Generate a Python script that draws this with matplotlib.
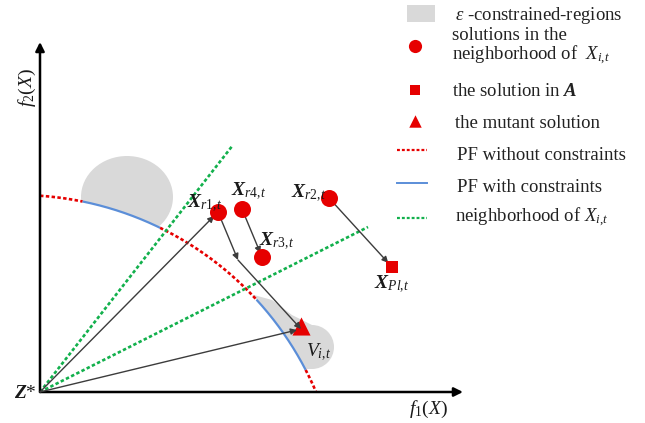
import numpy as np
import matplotlib
matplotlib.use("Agg")
import matplotlib.pyplot as plt
from matplotlib.patches import Circle, Ellipse, Polygon, Rectangle

plt.rcParams['font.family'] = ['Liberation Serif', 'DejaVu Serif']
plt.rcParams['mathtext.fontset'] = 'custom'
plt.rcParams['mathtext.rm'] = 'Liberation Serif'
plt.rcParams['mathtext.it'] = 'Liberation Serif:italic'
plt.rcParams['mathtext.bf'] = 'Liberation Serif:italic:bold'

# ---- diagram data (objective space, drawing units) ----
ideal_point = (40, 392)                     # Z*
axis_ends = [(463, 392), (40, 42)]          # f1 and f2 axis tips

pf_center = (18, 519)
pf_radius = 324
pf_angle_range = (86.1, 23.1)               # degrees, whole front
pf_feasible_parts = [(78.5, 64.0), (42.6, 27.4)]

neighbor_ray_x = [233, 368]
neighbor_ray_y = [145, 227]

sol_names = ['r1', 'r4', 'r3', 'r2']
sol_x = [218, 242, 262, 329]
sol_y = [212, 209, 257, 198]
archive_x, archive_y = 392, 267

# mutant built by vector addition
x1 = np.array([sol_x[0], sol_y[0]], float)
x4 = np.array([sol_x[1], sol_y[1]], float)
x3 = np.array([sol_x[2], sol_y[2]], float)
x2 = np.array([sol_x[3], sol_y[3]], float)
xa = np.array([archive_x, archive_y], float)
step_point = x1 + (x3 - x4)
mutant = step_point + (xa - x2)

legend_labels = [r'$\epsilon$ -constrained-regions',
                 'solutions in the\nneighborhood of  $X_{i{,}t}$',
                 r'the solution in $\mathbf{A}$',
                 'the mutant solution',
                 'PF without constraints',
                 'PF with constraints',
                 'neighborhood of $X_{i{,}t}$']

RED = '#e60000'
BLUE = '#5b8ed8'
GREEN = '#12b04c'
GRAY = '#d9d9d9'
ARROW = '#3c3c3c'

fig = plt.figure(figsize=(6.45, 4.23), dpi=100)
ax = fig.add_axes([0, 0, 1, 1])
ax.set_xlim(0, 645)
ax.set_ylim(423, 0)
ax.axis('off')


def arc(a0, a1, n=200):
    t = np.radians(np.linspace(a0, a1, n))
    return pf_center[0] + pf_radius * np.cos(t), pf_center[1] - pf_radius * np.sin(t)


# epsilon-constrained regions (outside the front only)
ax.add_patch(Ellipse((127, 197), 92, 82, color=GRAY, zorder=1, lw=0))
ax.add_patch(Circle((312, 347), 22, color=GRAY, zorder=1, lw=0))
ax.add_patch(Polygon([(254, 295), (272, 300), (292, 315), (312, 325),
                      (312, 369), (290, 369), (240, 300)],
                     closed=True, color=GRAY, zorder=1, lw=0))
ax.add_patch(Circle(pf_center, pf_radius, color='white', zorder=2, lw=0))

# Pareto fronts
bounds = [pf_angle_range[0]]
for a, b in pf_feasible_parts:
    bounds += [a, b]
bounds.append(pf_angle_range[1])
for i in range(0, len(bounds), 2):
    xs, ys = arc(bounds[i], bounds[i + 1])
    ax.plot(xs, ys, color=RED, lw=1.9, ls=(0, (1.3, 0.9)), zorder=3)
for a, b in pf_feasible_parts:
    xs, ys = arc(a, b)
    ax.plot(xs, ys, color=BLUE, lw=1.6, zorder=3, solid_capstyle='butt')

# neighborhood rays
for ex, ey in zip(neighbor_ray_x, neighbor_ray_y):
    ax.plot([ideal_point[0], ex], [ideal_point[1], ey], color=GREEN, lw=1.9,
            ls=(0, (1.3, 0.9)), zorder=3)

# coordinate axes
for tip in axis_ends:
    ax.annotate('', xy=tip, xytext=ideal_point,
                arrowprops=dict(arrowstyle='-|>', color='black', lw=1.8,
                                mutation_scale=13, shrinkA=0, shrinkB=0),
                zorder=4)


def vec(a, b, sb=2):
    ax.annotate('', xy=tuple(b), xytext=tuple(a),
                arrowprops=dict(arrowstyle='-|>', color=ARROW, lw=1.0,
                                mutation_scale=9, shrinkA=0, shrinkB=sb),
                zorder=5)


vec(ideal_point, x1, 4)
vec(ideal_point, mutant, 3)
vec(x1, step_point, 0)
vec(step_point, mutant, 0)
vec(x4, x3, 3)
vec(x2, xa, 4)

# solutions
ax.scatter(sol_x, sol_y, s=150, color=RED, zorder=6, lw=0)
ax.scatter([archive_x], [archive_y], s=80, marker='s', color=RED, zorder=6, lw=0)
ax.scatter([mutant[0]], [mutant[1] - 3], s=170, marker='^', color=RED, zorder=4, lw=0)

# point labels
fs = 14
txt = dict(fontsize=fs, color='#1a1a1a', zorder=7)
ax.text(187, 203, r'$\mathbf{X}_{r1{,}t}$', ha='left', va='center', **txt)
ax.text(231, 191, r'$\mathbf{X}_{r4{,}t}$', ha='left', va='center', **txt)
ax.text(259, 241, r'$\mathbf{X}_{r3{,}t}$', ha='left', va='center', **txt)
ax.text(291, 193, r'$\mathbf{X}_{r2{,}t}$', ha='left', va='center', **txt)
ax.text(374, 284, r'$\mathbf{X}_{Pl{,}t}$', ha='left', va='center', **txt)
ax.text(306, 352, r'$V_{i{,}t}$', ha='left', va='center', **txt)
ax.text(25, 394, r'$\mathbf{Z}$*', ha='center', va='center', **txt)
ax.text(428, 409, r'$f_1(X)$', ha='center', va='center', **txt)
ax.text(27, 88, r'$f_2(X)$', ha='center', va='center', rotation=90, **txt)

# legend
lx0, lx1 = 397, 427
mx = 415
ltxt = dict(fontsize=13.5, color='#222222', ha='left', va='center', zorder=7)
ax.add_patch(Rectangle((407, 5), 28, 17, color=GRAY, lw=0))
ax.text(455, 15, legend_labels[0], **ltxt)
ax.scatter([mx], [46], s=90, color=RED, lw=0)
ax.text(452, 47, legend_labels[1], linespacing=1.0, **ltxt)
ax.scatter([mx], [90], s=60, marker='s', color=RED, lw=0)
ax.text(452, 92, legend_labels[2], **ltxt)
ax.scatter([mx], [121], s=80, marker='^', color=RED, lw=0)
ax.text(455, 124, legend_labels[3], **ltxt)
ax.plot([lx0, lx1], [150, 150], color=RED, lw=1.6, ls=(0, (1.3, 0.9)))
ax.text(457, 155, legend_labels[4], **ltxt)
ax.plot([lx0, lx1], [183, 183], color=BLUE, lw=1.4)
ax.text(457, 187, legend_labels[5], **ltxt)
ax.plot([lx0, lx1], [218, 218], color=GREEN, lw=1.6, ls=(0, (1.3, 0.9)))
ax.text(455, 217, legend_labels[6], **ltxt)

fig.savefig('out.png', dpi=100)
